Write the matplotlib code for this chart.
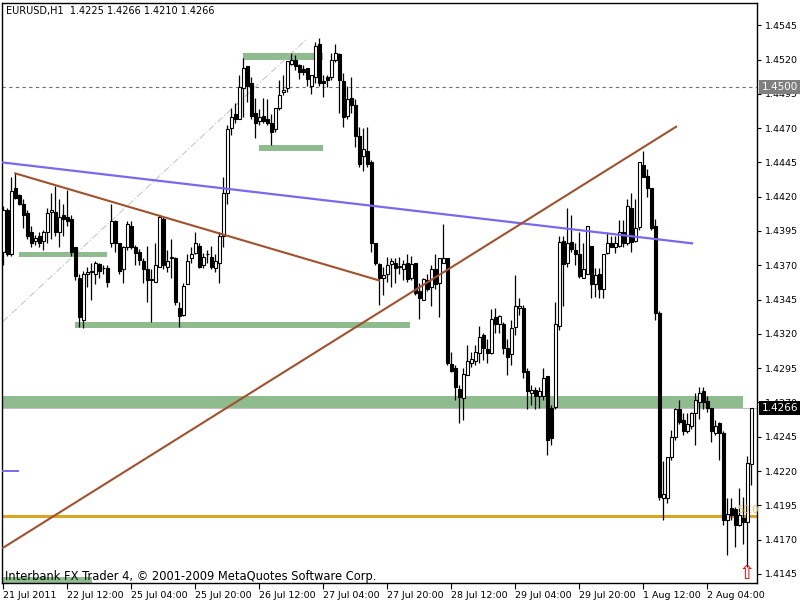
import matplotlib
matplotlib.use('Agg')
import matplotlib.pyplot as plt
import matplotlib.transforms as mtransforms
from matplotlib.patches import Rectangle

plt.rcParams['font.family'] = 'DejaVu Sans'

TITLE = "EURUSD,H1  1.4225 1.4266 1.4210 1.4266"
WATERMARK = "Interbank FX Trader 4, \u00a9 2001-2009 MetaQuotes Software Corp."

# hourly EURUSD bars (oldest first)
opens = [
    1.4380, 1.4410, 1.4378, 1.4426, 1.4421, 1.4415, 1.4408, 1.4394, 1.4388, 1.4391,
    1.4388, 1.4394, 1.4409, 1.4409, 1.4394, 1.4407, 1.4405, 1.4404, 1.4383, 1.4361,
    1.4330, 1.4364, 1.4365, 1.4364, 1.4371, 1.4368, 1.4368, 1.4386, 1.4402, 1.4386,
    1.4367, 1.4383, 1.4399, 1.4383, 1.4380, 1.4373, 1.4367, 1.4359, 1.4358, 1.4369,
    1.4404, 1.4369, 1.4375, 1.4375, 1.4339, 1.4334, 1.4356, 1.4375, 1.4379, 1.4384,
    1.4370, 1.4378, 1.4376, 1.4368, 1.4372, 1.4391, 1.4423, 1.4470, 1.4480, 1.4477,
    1.4499, 1.4515, 1.4503, 1.4481, 1.4475, 1.4479, 1.4477, 1.4474, 1.4469, 1.4485,
    1.4496, 1.4499, 1.4517, 1.4520, 1.4516, 1.4513, 1.4514, 1.4501, 1.4507, 1.4531,
    1.4504, 1.4507, 1.4507, 1.4520, 1.4524, 1.4504, 1.4479, 1.4492, 1.4487, 1.4464,
    1.4450, 1.4453, 1.4445, 1.4386, 1.4371, 1.4361, 1.4364, 1.4371, 1.4372, 1.4369,
    1.4367, 1.4372, 1.4361, 1.4372, 1.4351, 1.4345, 1.4359, 1.4354, 1.4367, 1.4357,
    1.4372, 1.4375, 1.4298, 1.4295, 1.4280, 1.4273, 1.4290, 1.4299, 1.4300, 1.4306,
    1.4319, 1.4309, 1.4306, 1.4332, 1.4327, 1.4327, 1.4310, 1.4305, 1.4325, 1.4339,
    1.4339, 1.4293, 1.4277, 1.4279, 1.4275, 1.4275, 1.4289, 1.4266, 1.4267, 1.4326,
    1.4388, 1.4372, 1.4387, 1.4381, 1.4378, 1.4361, 1.4364, 1.4384, 1.4356, 1.4364,
    1.4353, 1.4379, 1.4386, 1.4383, 1.4384, 1.4394, 1.4386, 1.4412, 1.4388, 1.4398,
    1.4443, 1.4435, 1.4426, 1.4399, 1.4335, 1.4200, 1.4200, 1.4230, 1.4245, 1.4265,
    1.4257, 1.4249, 1.4253, 1.4262, 1.4270, 1.4278, 1.4271, 1.4266, 1.4248, 1.4255,
    1.4248, 1.4184, 1.4193, 1.4192, 1.4181, 1.4186, 1.4183, 1.4225]

highs = [
    1.4413, 1.4412, 1.4434, 1.4437, 1.4422, 1.4418, 1.4410, 1.4399, 1.4392, 1.4394,
    1.4396, 1.4412, 1.4423, 1.4428, 1.4418, 1.4415, 1.4425, 1.4407, 1.4383, 1.4364,
    1.4366, 1.4369, 1.4372, 1.4373, 1.4372, 1.4370, 1.4370, 1.4415, 1.4403, 1.4386,
    1.4384, 1.4402, 1.4402, 1.4385, 1.4382, 1.4375, 1.4384, 1.4367, 1.4386, 1.4407,
    1.4405, 1.4381, 1.4389, 1.4376, 1.4343, 1.4357, 1.4378, 1.4383, 1.4394, 1.4386,
    1.4379, 1.4381, 1.4384, 1.4378, 1.4394, 1.4434, 1.4472, 1.4485, 1.4488, 1.4509,
    1.4521, 1.4515, 1.4507, 1.4492, 1.4484, 1.4492, 1.4491, 1.4480, 1.4485, 1.4505,
    1.4509, 1.4519, 1.4525, 1.4523, 1.4517, 1.4516, 1.4514, 1.4509, 1.4533, 1.4536,
    1.4509, 1.4509, 1.4525, 1.4531, 1.4525, 1.4510, 1.4501, 1.4507, 1.4491, 1.4471,
    1.4470, 1.4471, 1.4447, 1.4386, 1.4372, 1.4369, 1.4376, 1.4375, 1.4375, 1.4376,
    1.4374, 1.4378, 1.4377, 1.4372, 1.4357, 1.4361, 1.4364, 1.4370, 1.4378, 1.4375,
    1.4400, 1.4375, 1.4307, 1.4297, 1.4283, 1.4295, 1.4312, 1.4307, 1.4312, 1.4326,
    1.4321, 1.4316, 1.4338, 1.4339, 1.4334, 1.4329, 1.4316, 1.4330, 1.4363, 1.4346,
    1.4341, 1.4295, 1.4283, 1.4281, 1.4281, 1.4295, 1.4289, 1.4268, 1.4343, 1.4391,
    1.4391, 1.4412, 1.4407, 1.4386, 1.4394, 1.4386, 1.4399, 1.4384, 1.4368, 1.4368,
    1.4378, 1.4394, 1.4391, 1.4391, 1.4403, 1.4403, 1.4418, 1.4423, 1.4418, 1.4445,
    1.4453, 1.4440, 1.4426, 1.4404, 1.4337, 1.4227, 1.4230, 1.4250, 1.4266, 1.4272,
    1.4262, 1.4262, 1.4263, 1.4277, 1.4281, 1.4281, 1.4275, 1.4266, 1.4257, 1.4256,
    1.4249, 1.4200, 1.4200, 1.4194, 1.4208, 1.4201, 1.4231, 1.4266]

lows = [
    1.4370, 1.4377, 1.4377, 1.4418, 1.4414, 1.4397, 1.4389, 1.4383, 1.4385, 1.4383,
    1.4381, 1.4386, 1.4389, 1.4391, 1.4383, 1.4391, 1.4399, 1.4377, 1.4359, 1.4325,
    1.4324, 1.4354, 1.4345, 1.4356, 1.4361, 1.4364, 1.4354, 1.4383, 1.4380, 1.4364,
    1.4357, 1.4381, 1.4382, 1.4370, 1.4370, 1.4357, 1.4343, 1.4329, 1.4358, 1.4369,
    1.4367, 1.4365, 1.4361, 1.4341, 1.4325, 1.4333, 1.4356, 1.4372, 1.4378, 1.4368,
    1.4368, 1.4372, 1.4367, 1.4365, 1.4357, 1.4383, 1.4415, 1.4465, 1.4474, 1.4477,
    1.4478, 1.4489, 1.4477, 1.4463, 1.4472, 1.4474, 1.4472, 1.4458, 1.4467, 1.4483,
    1.4494, 1.4496, 1.4516, 1.4512, 1.4506, 1.4509, 1.4501, 1.4495, 1.4503, 1.4501,
    1.4493, 1.4500, 1.4505, 1.4518, 1.4481, 1.4471, 1.4477, 1.4481, 1.4456, 1.4442,
    1.4439, 1.4442, 1.4380, 1.4370, 1.4341, 1.4348, 1.4358, 1.4354, 1.4357, 1.4364,
    1.4359, 1.4358, 1.4359, 1.4348, 1.4331, 1.4345, 1.4351, 1.4340, 1.4353, 1.4332,
    1.4372, 1.4297, 1.4292, 1.4272, 1.4255, 1.4257, 1.4290, 1.4296, 1.4297, 1.4299,
    1.4301, 1.4299, 1.4305, 1.4321, 1.4321, 1.4305, 1.4290, 1.4297, 1.4319, 1.4334,
    1.4288, 1.4265, 1.4268, 1.4265, 1.4266, 1.4272, 1.4232, 1.4239, 1.4265, 1.4323,
    1.4340, 1.4369, 1.4380, 1.4370, 1.4361, 1.4361, 1.4364, 1.4346, 1.4347, 1.4346,
    1.4346, 1.4378, 1.4383, 1.4379, 1.4383, 1.4383, 1.4385, 1.4380, 1.4387, 1.4396,
    1.4434, 1.4420, 1.4396, 1.4330, 1.4199, 1.4184, 1.4197, 1.4228, 1.4243, 1.4254,
    1.4246, 1.4248, 1.4251, 1.4239, 1.4258, 1.4265, 1.4263, 1.4241, 1.4246, 1.4228,
    1.4181, 1.4159, 1.4184, 1.4165, 1.4180, 1.4167, 1.4150, 1.4210]

closes = [
    1.4410, 1.4378, 1.4424, 1.4419, 1.4415, 1.4407, 1.4391, 1.4386, 1.4390, 1.4386,
    1.4394, 1.4408, 1.4410, 1.4394, 1.4405, 1.4404, 1.4402, 1.4380, 1.4362, 1.4332,
    1.4364, 1.4365, 1.4366, 1.4372, 1.4366, 1.4368, 1.4358, 1.4402, 1.4386, 1.4366,
    1.4383, 1.4400, 1.4383, 1.4379, 1.4374, 1.4367, 1.4359, 1.4360, 1.4370, 1.4405,
    1.4370, 1.4373, 1.4376, 1.4343, 1.4333, 1.4355, 1.4373, 1.4378, 1.4386, 1.4369,
    1.4376, 1.4378, 1.4369, 1.4373, 1.4391, 1.4423, 1.4469, 1.4478, 1.4477, 1.4500,
    1.4514, 1.4501, 1.4479, 1.4474, 1.4478, 1.4475, 1.4474, 1.4467, 1.4485, 1.4494,
    1.4498, 1.4519, 1.4520, 1.4515, 1.4511, 1.4511, 1.4506, 1.4509, 1.4530, 1.4503,
    1.4503, 1.4505, 1.4520, 1.4525, 1.4505, 1.4478, 1.4491, 1.4487, 1.4464, 1.4444,
    1.4455, 1.4444, 1.4386, 1.4372, 1.4361, 1.4363, 1.4370, 1.4373, 1.4368, 1.4369,
    1.4371, 1.4360, 1.4371, 1.4350, 1.4346, 1.4360, 1.4353, 1.4367, 1.4356, 1.4375,
    1.4375, 1.4299, 1.4293, 1.4281, 1.4274, 1.4291, 1.4300, 1.4302, 1.4307, 1.4318,
    1.4310, 1.4306, 1.4331, 1.4327, 1.4333, 1.4310, 1.4303, 1.4324, 1.4340, 1.4340,
    1.4292, 1.4278, 1.4279, 1.4275, 1.4278, 1.4288, 1.4243, 1.4244, 1.4327, 1.4387,
    1.4371, 1.4386, 1.4382, 1.4378, 1.4362, 1.4367, 1.4399, 1.4356, 1.4363, 1.4353,
    1.4378, 1.4386, 1.4383, 1.4386, 1.4394, 1.4386, 1.4413, 1.4387, 1.4397, 1.4445,
    1.4434, 1.4426, 1.4397, 1.4335, 1.4201, 1.4203, 1.4230, 1.4245, 1.4265, 1.4256,
    1.4249, 1.4254, 1.4262, 1.4272, 1.4277, 1.4270, 1.4266, 1.4249, 1.4253, 1.4248,
    1.4184, 1.4189, 1.4188, 1.4181, 1.4188, 1.4183, 1.4226, 1.4266]

xtick_bars = [0, 16, 32, 48, 64, 80, 96, 112, 128, 144, 160, 176]
xtick_labels = ["21 Jul 2011", "22 Jul 12:00", "25 Jul 04:00", "25 Jul 20:00",
                "26 Jul 12:00", "27 Jul 04:00", "27 Jul 20:00", "28 Jul 12:00",
                "29 Jul 04:00", "29 Jul 20:00", "1 Aug 12:00", "2 Aug 04:00"]
ytick_prices = [1.4145, 1.4170, 1.4195, 1.4220, 1.4245, 1.4270, 1.4295, 1.4320,
                1.4345, 1.4370, 1.4395, 1.4420, 1.4445, 1.4470, 1.4495, 1.4520, 1.4545]

# drawn objects: (bar index, price) anchors
purple_bars, purple_prices = [-0.3, 172.2], [1.4445, 1.4386]
purple_stub_bars, purple_stub_prices = [-0.3, 3.7], [1.4220, 1.4220]
brown1_bars, brown1_prices = [3.0, 93.9], [1.4437, 1.4359]
brown2_bars, brown2_prices = [-0.1, 168.2], [1.4164, 1.4471]
fib_bars, fib_prices = [-0.1, 75.9], [1.4329, 1.4535]
# green rectangles: bar from, bar to, price low, price high
green_boxes = [
    (59.9, 79.9, 1.4520, 1.4525),
    (63.9, 79.9, 1.4453, 1.4458),
    (3.9, 25.9, 1.4376, 1.4380),
    (17.9, 101.7, 1.4324, 1.4329),
    (-0.4, 184.9, 1.4266, 1.4275),
    (-0.4, 22.2, 1.4138, 1.4143),
]
level_1450 = 1.4500
fib_50 = 1.4187
bid = 1.4266
arrow_bar, arrow_price = 186, 1.4145

fig = plt.figure(figsize=(8, 6), dpi=100)
ax = fig.add_axes([2 / 800, 17 / 600, 755 / 800, 580 / 600])
ax.set_xlim(-0.325, 188.425)
ax.set_ylim(1.41384, 1.45612)

# background objects
for b0, b1, p0, p1 in green_boxes:
    ax.add_patch(Rectangle((b0, p0), b1 - b0, p1 - p0, facecolor='#8fbc8f',
                           edgecolor='none', zorder=1))
ax.axhline(level_1450, color='#707070', lw=0.8, ls=(0, (3, 3)), zorder=1)
ax.axhline(bid, color='#c0c0c0', lw=0.8, zorder=1.5)
ax.axhline(fib_50, color='#daa520', lw=2.2, zorder=1.5)
ax.plot(fib_bars, fib_prices, color='#c8c8c8', lw=0.8, ls=(0, (6, 2, 1, 2)), zorder=1)

# candles
idx = list(range(len(opens)))
wlo = [min(l, o, c) for l, o, c in zip(lows, opens, closes)]
whi = [max(h, o, c) for h, o, c in zip(highs, opens, closes)]
ax.vlines(idx, wlo, whi, color='black', lw=0.9, zorder=2)
bottoms = [min(o, c) for o, c in zip(opens, closes)]
heights = [max(abs(c - o), 0.00002) for o, c in zip(opens, closes)]
fills = ['white' if c >= o else 'black' for o, c in zip(opens, closes)]
ax.bar(idx, heights, bottom=bottoms, width=0.62, color=fills,
       edgecolor='black', linewidth=0.8, zorder=3)

# trend lines on top
ax.plot(purple_bars, purple_prices, color='#7b68ee', lw=1.6, zorder=4)
ax.plot(purple_stub_bars, purple_stub_prices, color='#7b68ee', lw=1.4, zorder=4)
ax.plot(brown1_bars, brown1_prices, color='#a0522d', lw=1.5, zorder=4)
ax.plot(brown2_bars, brown2_prices, color='#a0522d', lw=1.5, zorder=4)

ax.text(183.4, fib_50 + 0.00008, '50.0', color='#e8b84a', fontsize=7,
        ha='left', va='bottom', zorder=5)
ax.text(arrow_bar, arrow_price, '\u21e7', color='red', fontsize=14,
        ha='center', va='center', zorder=5)

# axes
for s in ax.spines.values():
    s.set_color('black')
    s.set_linewidth(1)
ax.yaxis.tick_right()
ax.set_yticks(ytick_prices)
ax.set_yticklabels(['%.4f' % p for p in ytick_prices])
ax.set_xticks(xtick_bars)
ax.set_xticklabels(xtick_labels)
for lbl in ax.get_xticklabels():
    lbl.set_ha('left')
ax.tick_params(axis='y', length=3, pad=3, labelsize=6.8, direction='out')
ax.tick_params(axis='x', length=4, pad=2, labelsize=6.8, direction='out')

trans = mtransforms.blended_transform_factory(ax.transAxes, ax.transData)
ax.text(1.006, level_1450, '1.4500', transform=trans, color='white', fontsize=7.5,
        va='center', ha='left', clip_on=False, zorder=6,
        bbox=dict(facecolor='#7f7f7f', edgecolor='none', pad=1.6))
ax.text(1.006, bid, '1.4266', transform=trans, color='white', fontsize=7.5,
        va='center', ha='left', clip_on=False, zorder=6,
        bbox=dict(facecolor='black', edgecolor='none', pad=1.6))

fig.text(6 / 800, 1 - 11 / 600, TITLE, fontsize=7.0, va='center', ha='left')
ax.text(0.004, 0.012, WATERMARK, transform=ax.transAxes, fontsize=8.3,
        va='center', ha='left', zorder=6)

fig.savefig('out.png', dpi=100)
